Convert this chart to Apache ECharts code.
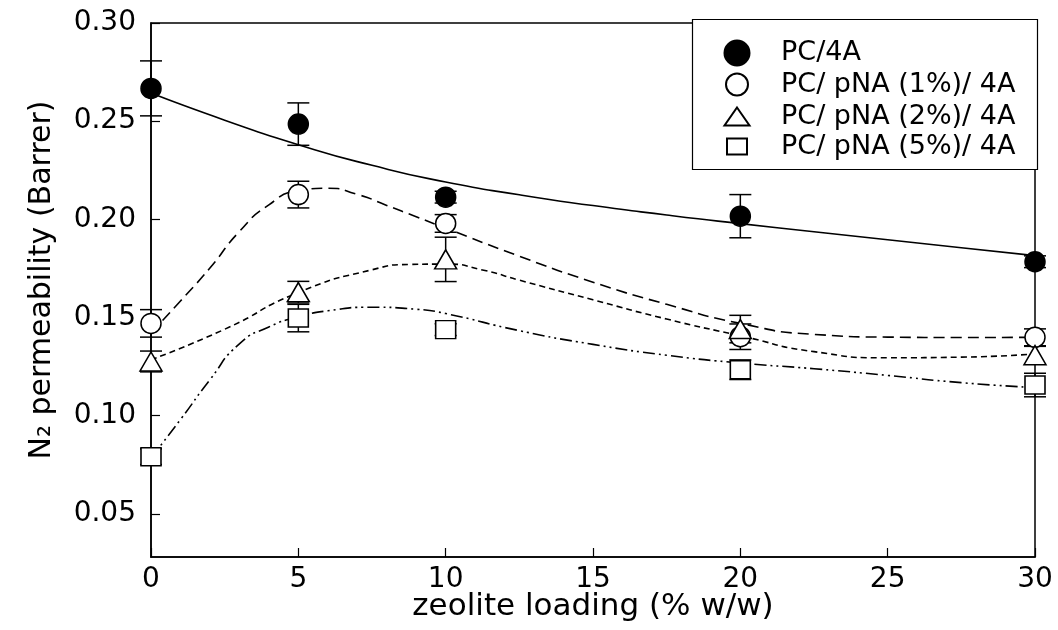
<!DOCTYPE html>
<html>
<head>
<meta charset="utf-8">
<script src="https://cdn.jsdelivr.net/npm/echarts@6/dist/echarts.min.js"></script>
<style>
html,body{margin:0;padding:0;background:#fff;}
#chart{width:1058px;height:630px;}
</style>
</head>
<body>
<div id="chart"></div>
<script>
// ---- data ----
const loading = [0, 5, 10, 20, 30];

const seriesNames = ['PC/4A', 'PC/ pNA (1%)/ 4A', 'PC/ pNA (2%)/ 4A', 'PC/ pNA (5%)/ 4A'];

const pc4a    = [0.2667, 0.2485, 0.2113, 0.2016, 0.1784];
const pc4aErr = [0.0140, 0.0108, 0.0030, 0.0110, 0.0030];

const pna1    = [0.1470, 0.2126, 0.1979, 0.1402, 0.1399];
const pna1Err = [0.0070, 0.0068, 0.0045, 0.0065, 0.0043];

const pna2    = [0.1276, 0.1629, 0.1796, 0.1441, 0.1308];
const pna2Err = [0.0053, 0.0055, 0.0113, 0.0070, 0.0045];

const pna5    = [0.0791, 0.1497, 0.1438, 0.1234, 0.1156];
const pna5Err = [0.0040, 0.0070, 0.0030, 0.0050, 0.0060];

// fitted trend curves
const fit4aX = [0, 2.5, 5, 7.5, 10, 12.5, 15, 17.5, 20, 22.5, 25, 27.5, 30];
const fit4aY = [0.2643, 0.2505, 0.2380, 0.2275, 0.2190, 0.2125, 0.2070, 0.2022, 0.1978, 0.1937, 0.1896, 0.1855, 0.1815];

const fit1X = [0, 1, 2, 3, 4, 5, 6, 7, 8, 9, 10, 12.5, 15, 17.5, 20, 22.5, 25, 27.5, 30];
const fit1Y = [0.1422, 0.1584, 0.1752, 0.1938, 0.2074, 0.2145, 0.2158, 0.2127, 0.2071, 0.2013, 0.1955, 0.1812, 0.1680, 0.1567, 0.1470, 0.1414, 0.1400, 0.1398, 0.1399];

const fit2X = [0, 2.5, 5, 7.5, 8.75, 10, 11.25, 12.5, 15, 17.5, 20, 22.5, 25, 27.5, 30];
const fit2Y = [0.1285, 0.1440, 0.1627, 0.1743, 0.1770, 0.1772, 0.1742, 0.1690, 0.1590, 0.1492, 0.1407, 0.1326, 0.1295, 0.1298, 0.1315];

const fit5X = [0, 1, 2, 3, 4, 5, 6, 7.5, 9, 10, 12.5, 15, 17.5, 20, 22.5, 25, 27.5, 30];
const fit5Y = [0.0785, 0.0980, 0.1183, 0.1366, 0.1452, 0.1503, 0.1534, 0.1552, 0.1542, 0.1520, 0.1433, 0.1363, 0.1308, 0.1268, 0.1239, 0.1205, 0.1168, 0.1143];

const yTicks = [0.05, 0.10, 0.15, 0.20, 0.25, 0.30];
const xTitle = 'zeolite loading (% w/w)';
const yTitle = 'N\u2082 permeability (Barrer)';

// ---- helpers ----
const FONT = 'DejaVu Sans';
const zip = (xs, ys) => xs.map((x, i) => [x, ys[i]]);
const zip3 = (xs, ys, es) => xs.map((x, i) => [x, ys[i], es[i]]);

function errRender(params, api) {
  const x = api.value(0), y = api.value(1), e = api.value(2);
  const top = api.coord([x, y + e]);
  const bot = api.coord([x, y - e]);
  const hw = 11;
  const st = {stroke: '#000', lineWidth: 1.5};
  return {
    type: 'group',
    children: [
      {type: 'line', shape: {x1: top[0], y1: top[1], x2: bot[0], y2: bot[1]}, style: st},
      {type: 'line', shape: {x1: top[0] - hw, y1: top[1], x2: top[0] + hw, y2: top[1]}, style: st},
      {type: 'line', shape: {x1: bot[0] - hw, y1: bot[1], x2: bot[0] + hw, y2: bot[1]}, style: st}
    ]
  };
}

function fitLine(data, type) {
  return {
    type: 'line', data: data, symbol: 'none', smooth: 0.6, silent: true,
    lineStyle: {color: '#000', width: 1.6, type: type}, z: 2
  };
}
function errSeries(data) {
  return {type: 'custom', renderItem: errRender, data: data, encode: {x: 0, y: 1}, silent: true, z: 3, clip: false};
}
function markSeries(name, data, symbol, size, filled) {
  return {
    type: 'scatter', name: name, data: data, symbol: symbol, symbolSize: size, z: 5, clip: false,
    itemStyle: {color: filled ? '#000' : '#fff', borderColor: '#000', borderWidth: 1.5, opacity: 1}
  };
}

// legend rows
const legRows = [52, 82, 112, 141];
const legIcons = ['circle', 'circle', 'triangle', 'rect'];
const legSize = [[25, 25], [22, 22], [25, 18], [20, 16]];
const symCx = 736, textX = 780;
const legends = seriesNames.map((n, i) => {
  const w = legSize[i][0], h = legSize[i][1];
  return {
    show: true, orient: 'vertical', selectedMode: false, padding: 0,
    left: symCx - w / 2, top: legRows[i] - h / 2,
    itemWidth: w, itemHeight: h, z: 60,
    data: [{name: n, icon: legIcons[i]}],
    textStyle: {fontFamily: FONT, fontSize: 27, color: '#000', padding: [0, 0, 0, textX - (symCx + w / 2 + 5)]}
  };
});

const chart = echarts.init(document.getElementById('chart'), null, {renderer: 'canvas'});
chart.setOption({
  animation: false,
  backgroundColor: '#fff',
  grid: {left: 151, right: 23, top: 23, bottom: 73, containLabel: false, outerBoundsMode: 'none',
    show: true, borderColor: '#000', borderWidth: 1.5, backgroundColor: 'transparent'},
  legend: legends,
  graphic: [{
    type: 'rect', z: 50, silent: true,
    shape: {x: 692.5, y: 19.5, width: 345, height: 150},
    style: {fill: '#fff', stroke: '#000', lineWidth: 1.2}
  }],
  xAxis: {
    type: 'value', min: 0, max: 30, interval: 5,
    name: xTitle, nameLocation: 'middle', nameGap: 34, nameMoveOverlap: false,
    nameTextStyle: {fontFamily: FONT, fontSize: 31, color: '#000'},
    axisLine: {show: true, onZero: false, lineStyle: {color: '#000', width: 1.5}},
    axisTick: {show: true, inside: true, length: 9, lineStyle: {color: '#000', width: 1.2}},
    axisLabel: {fontFamily: FONT, fontSize: 28, color: '#000', margin: 9},
    splitLine: {show: false}
  },
  yAxis: {
    type: 'value', min: 0.028, max: 0.30,
    name: yTitle, nameLocation: 'middle', nameGap: 94, nameMoveOverlap: false,
    nameTextStyle: {fontFamily: FONT, fontSize: 30, color: '#000', padding: [0, 0, 0, 20]},
    axisLine: {show: true, onZero: false, lineStyle: {color: '#000', width: 1.5}},
    axisTick: {show: true, inside: true, length: 9, customValues: yTicks, lineStyle: {color: '#000', width: 1.2}},
    axisLabel: {fontFamily: FONT, fontSize: 28, color: '#000', margin: 15, customValues: yTicks,
      padding: [4, 0, 0, 0], formatter: v => v.toFixed(2)},
    splitLine: {show: false}
  },
  series: [
    fitLine(zip(fit4aX, fit4aY), 'solid'),
    fitLine(zip(fit1X, fit1Y), [11, 6]),
    fitLine(zip(fit2X, fit2Y), [6, 4]),
    fitLine(zip(fit5X, fit5Y), [12, 4, 2, 4, 2, 4]),
    errSeries(zip3(loading, pc4a, pc4aErr)),
    errSeries(zip3(loading, pna1, pna1Err)),
    errSeries(zip3(loading, pna2, pna2Err)),
    errSeries(zip3(loading, pna5, pna5Err)),
    markSeries(seriesNames[0], zip(loading, pc4a), 'circle', 20, true),
    markSeries(seriesNames[1], zip(loading, pna1), 'circle', 20, false),
    markSeries(seriesNames[2], zip(loading, pna2), 'triangle', [22, 19], false),
    markSeries(seriesNames[3], zip(loading, pna5), 'rect', [20, 18], false)
  ]
});
</script>
</body>
</html>
